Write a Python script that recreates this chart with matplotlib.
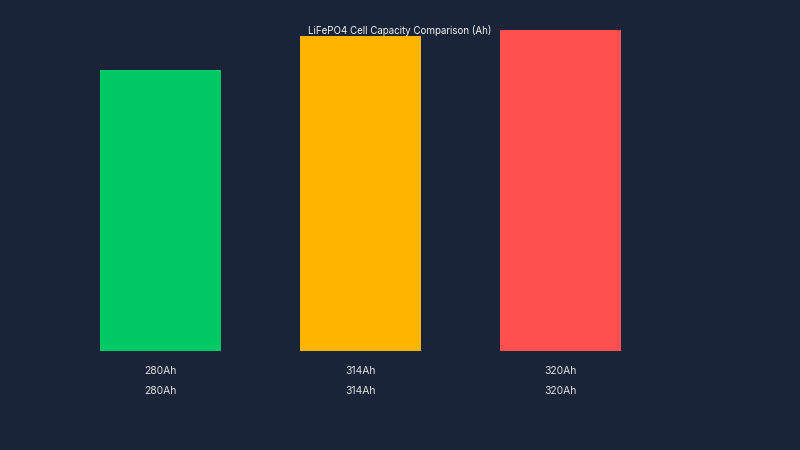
import matplotlib
matplotlib.use("Agg")
import matplotlib.pyplot as plt

# data
categories = ["280Ah", "314Ah", "320Ah"]
capacity = [280, 314, 320]
colors = ["#00c864", "#ffb400", "#ff5050"]
title = "LiFePO4 Cell Capacity Comparison (Ah)"

bg = "#1a2438"
W, H = 800, 450

fig = plt.figure(figsize=(8, 4.5), dpi=100, facecolor=bg)
# axes: baseline at y=351px from top, 320 at y=30px
ax = fig.add_axes([0, (H - 351) / H, 1, 321 / H])
ax.set_facecolor(bg)
x = list(range(len(categories)))
ax.bar(x, capacity, width=121 / 200, color=colors, zorder=1)
# pixel 0 -> 800 ; centers at 160.5 + 200*i
ax.set_xlim(-160.5 / 200, (800 - 160.5) / 200)
ax.set_ylim(0, 320)
ax.axis("off")

font = "Inter"
fig.text(0.5, 1 - 30 / H, title, ha="center", va="center",
         color="#f4f4f4", fontsize=7.0, family=font, zorder=5)

for i, lab in enumerate(categories):
    xp = (160.5 + 200 * i) / W
    fig.text(xp, 1 - 370.5 / H, lab, ha="center", va="center",
             color="#e0e0e0", fontsize=7.5, family=font)
    fig.text(xp, 1 - 390.5 / H, lab, ha="center", va="center",
             color="#e0e0e0", fontsize=7.5, family=font)

fig.savefig("out.png", dpi=100, facecolor=bg)
